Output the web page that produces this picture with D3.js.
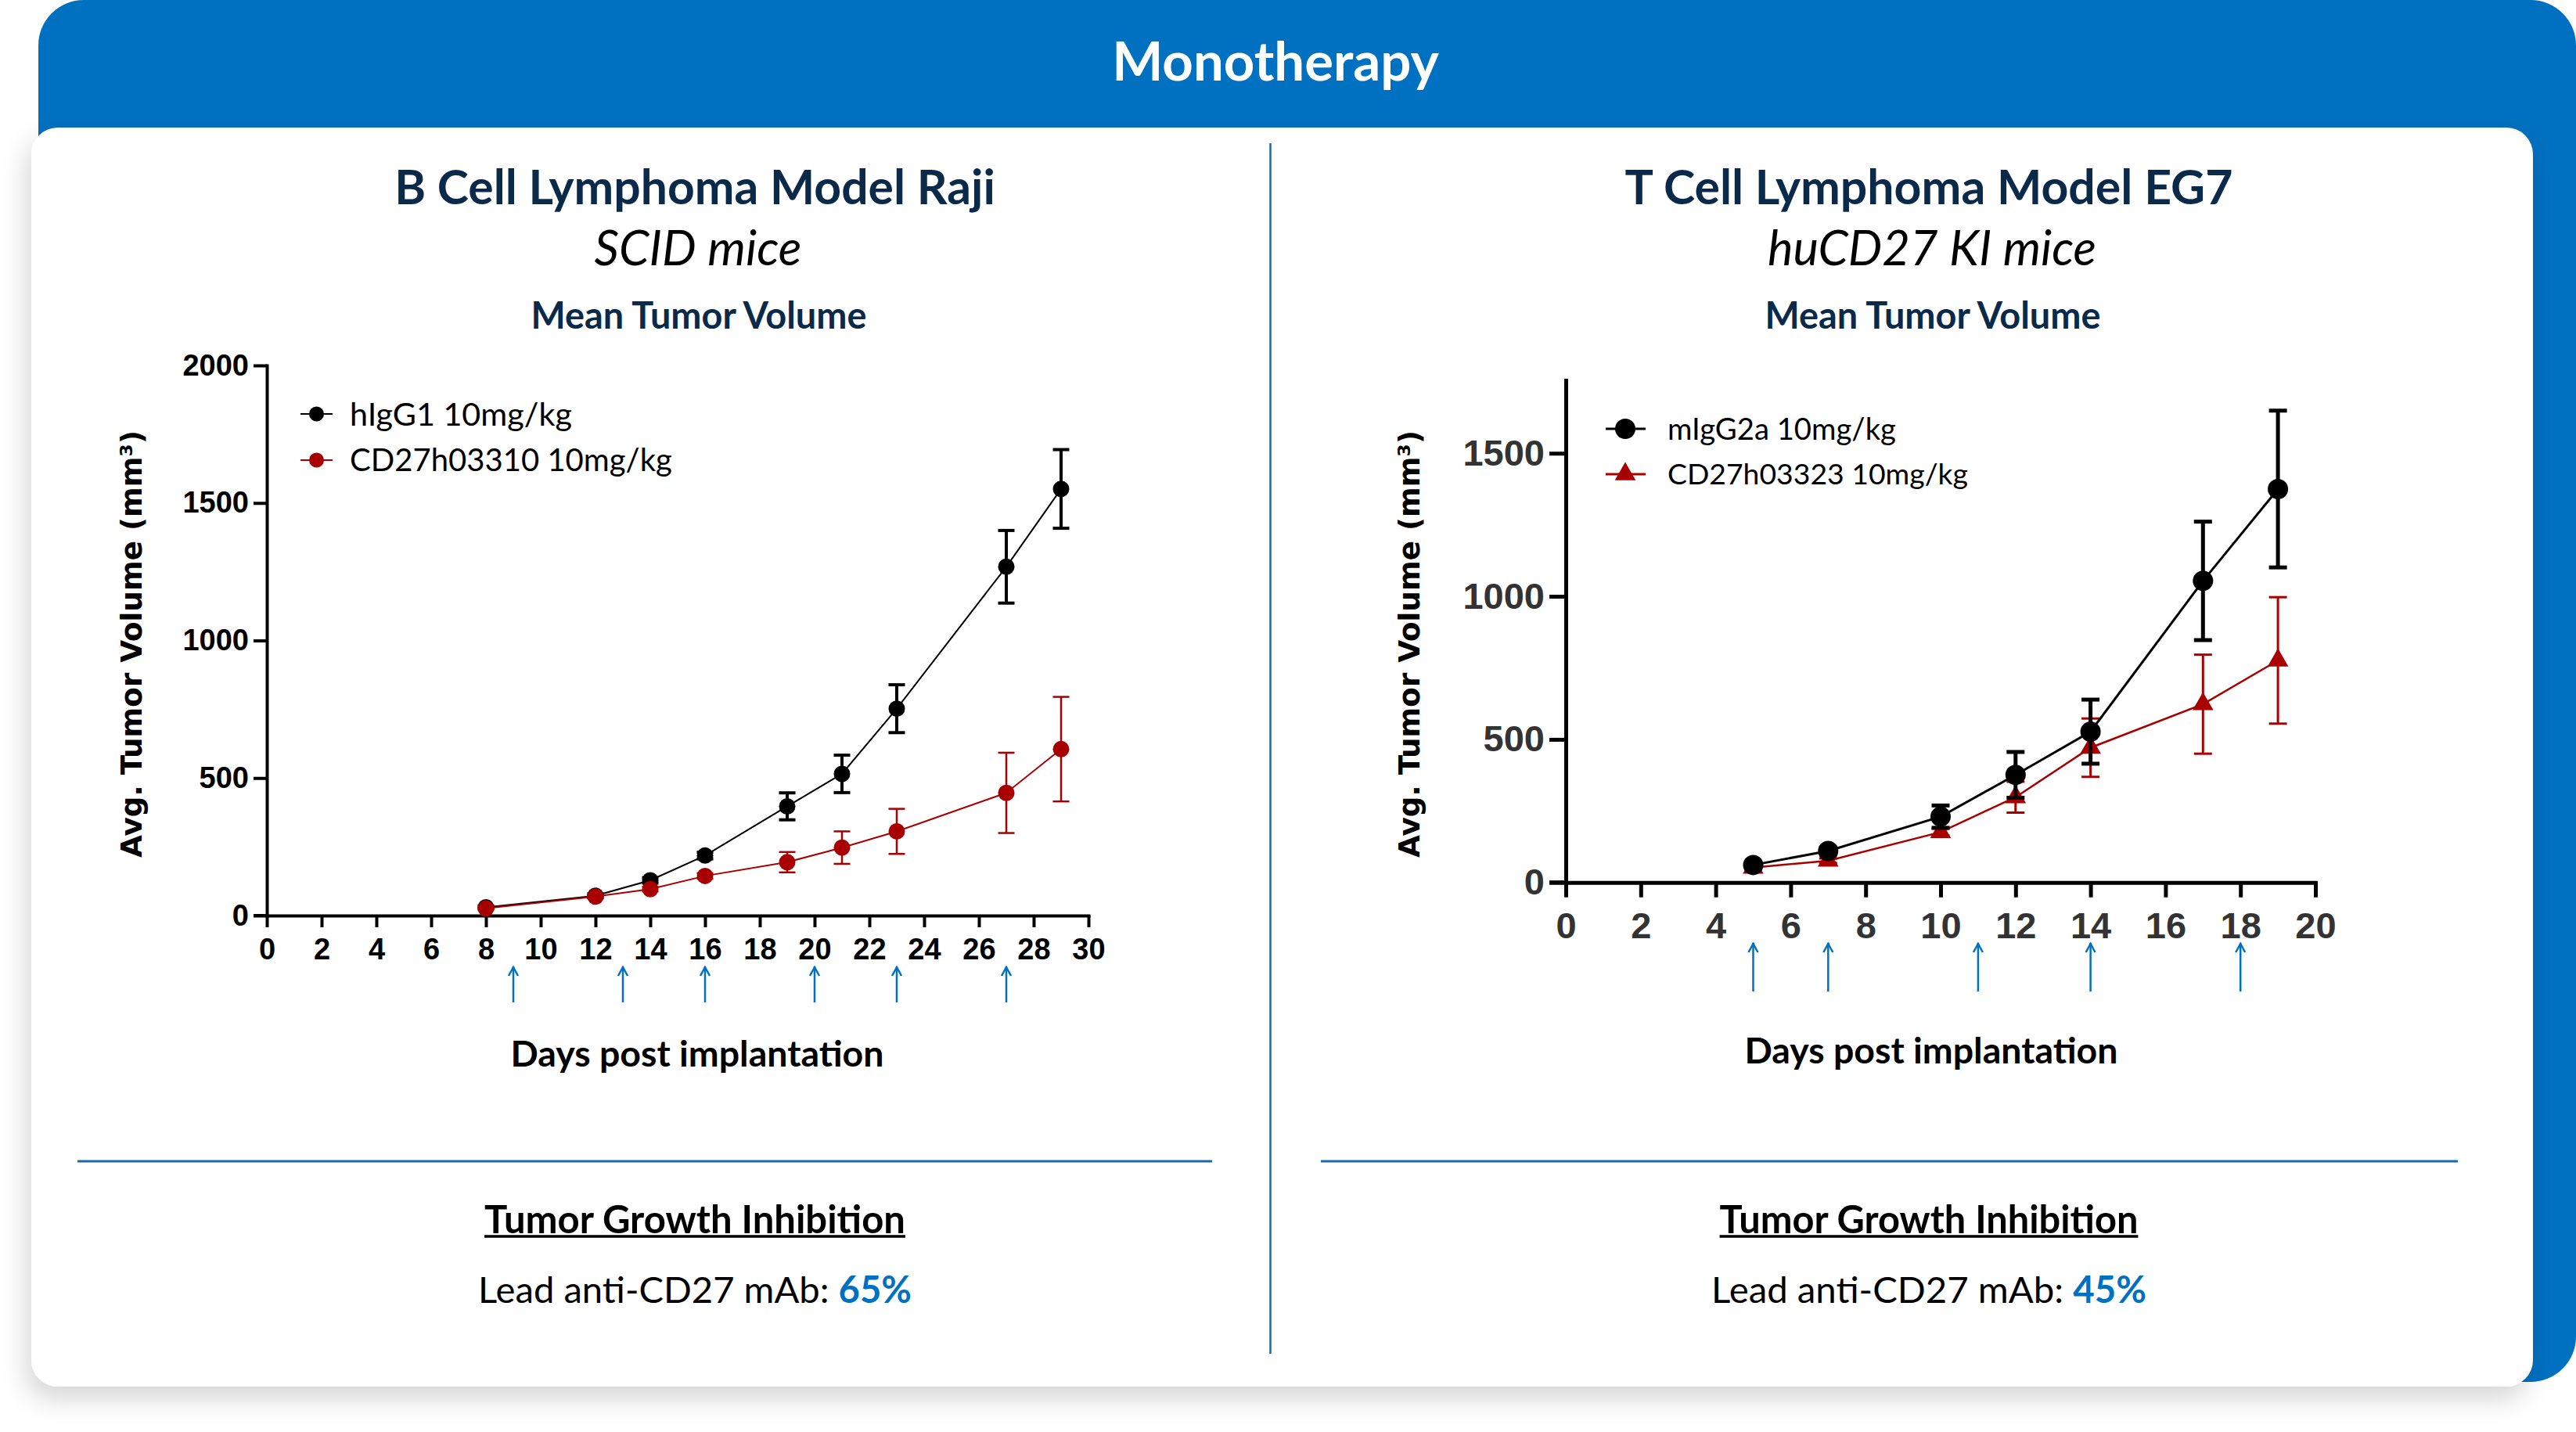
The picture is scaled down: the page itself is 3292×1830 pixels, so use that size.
<!DOCTYPE html>
<html><head><meta charset="utf-8">
<script src="https://cdn.jsdelivr.net/npm/d3@7/dist/d3.min.js"></script>
<style>html,body{margin:0;padding:0;background:#fff;overflow:hidden}</style>
</head><body>
<svg id="c" width="3292" height="1830" xmlns="http://www.w3.org/2000/svg"></svg>
<script>
// ---------------- DATA ----------------
const headerTitle = "Monotherapy";

// Left panel: B Cell Lymphoma Model Raji
const rajiTitle = "B Cell Lymphoma Model Raji";
const rajiSubtitle = "SCID mice";
const rajiDays = [8, 12, 14, 16, 19, 21, 23, 27, 29];
const rajiCtrl = [30, 72, 128, 218, 397, 515, 752, 1268, 1551];
const rajiCtrlErr = [5, 7, 10, 12, 49, 68, 87, 132, 143];
const rajiTrt = [26, 69, 96, 144, 194, 247, 306, 446, 605];
const rajiTrtErr = [4, 6, 8, 10, 37, 59, 82, 146, 190];
const rajiSeriesNames = ["hIgG1 10mg/kg", "CD27h03310 10mg/kg"];
const rajiDoseDays = [9, 13, 16, 20, 23, 27];
const rajiXTicks = d3.range(0, 31, 2);
const rajiYTicks = [0, 500, 1000, 1500, 2000];
const rajiTGI = "65%";

// Right panel: T Cell Lymphoma Model EG7
const eg7Title = "T Cell Lymphoma Model EG7";
const eg7Subtitle = "huCD27 KI mice";
const eg7Days = [5, 7, 10, 12, 14, 17, 19];
const eg7Ctrl = [61, 110, 230, 376, 527, 1054, 1375];
const eg7CtrlErr = [8, 12, 39, 80, 112, 207, 274];
const eg7Trt = [52, 76, 176, 298, 471, 623, 776];
const eg7TrtErr = [5, 8, 12, 54, 102, 173, 221];
const eg7SeriesNames = ["mIgG2a 10mg/kg", "CD27h03323 10mg/kg"];
const eg7DoseDays = [5, 7, 11, 14, 18];
const eg7XTicks = d3.range(0, 21, 2);
const eg7YTicks = [0, 500, 1000, 1500];
const eg7TGI = "45%";

const sectionTitle = "Mean Tumor Volume";
const xAxisTitle = "Days post implantation";
const yAxisTitle = "Avg. Tumor Volume (mm³)";
const tgiTitle = "Tumor Growth Inhibition";
const tgiLead = "Lead anti-CD27 mAb: ";

// ---------------- STYLE ----------------
const BLUE = "#0070C0";
const NAVY = "#0b2a4a";
const RED = "#a80000";
const LINEBLUE = "#1e66a4";
const TXT = "Lato, 'Open Sans', sans-serif";

const svg = d3.select("#c");
const defs = svg.append("defs");
const f = defs.append("filter").attr("id", "sh").attr("x", "-5%").attr("y", "-5%").attr("width", "110%").attr("height", "115%");
f.append("feDropShadow").attr("dx", -6).attr("dy", 16).attr("stdDeviation", 16)
  .attr("flood-color", "#000").attr("flood-opacity", 0.16);

// Frame
svg.append("rect").attr("x", 49).attr("y", 0).attr("width", 3243).attr("height", 1766)
  .attr("rx", 58).attr("fill", BLUE);
svg.append("rect").attr("x", 40).attr("y", 163).attr("width", 3197).attr("height", 1609)
  .attr("rx", 34).attr("fill", "#fff").attr("filter", "url(#sh)");

function fit(sel, w) {
  const fs = parseFloat(sel.attr("font-size"));
  const bw = sel.node().getBBox().width;
  if (bw > 0) sel.attr("font-size", fs * w / bw);
  return sel;
}
function text(x, y, s, o) {
  const t = svg.append("text").attr("x", x).attr("y", y).attr("dy", "0.36em")
    .attr("text-anchor", o.anchor || "middle")
    .attr("font-family", o.family || TXT).attr("font-size", o.size || 40)
    .attr("font-weight", o.weight || "normal").attr("font-style", o.style || "normal")
    .attr("fill", o.fill || "#000").text(s);
  if (o.width) fit(t, o.width);
  return t;
}

text(1630, 78, headerTitle, {weight: "bold", fill: "#fff", width: 418, size: 60});

// divider & separators
svg.append("line").attr("x1", 1623.5).attr("x2", 1623.5).attr("y1", 183).attr("y2", 1730)
  .attr("stroke", LINEBLUE).attr("stroke-width", 2.5);
svg.append("line").attr("x1", 99).attr("x2", 1549).attr("y1", 1484).attr("y2", 1484)
  .attr("stroke", LINEBLUE).attr("stroke-width", 3);
svg.append("line").attr("x1", 1688).attr("x2", 3141).attr("y1", 1484).attr("y2", 1484)
  .attr("stroke", LINEBLUE).attr("stroke-width", 3);

function panel(cfg) {
  const cx = cfg.cx;
  text(cx, 239, cfg.title, {weight: "bold", fill: NAVY, width: cfg.titleW, size: 56});
  text(cfg.subX, 317, cfg.subtitle, {style: "italic", fill: "#000", width: cfg.subW, size: 56});
  text(cfg.cx + 5, 403, sectionTitle, {weight: "bold", fill: NAVY, width: 429, size: 44});

  const x = d3.scaleLinear().domain([0, cfg.xMax]).range([cfg.x0, cfg.x1]);
  const y = d3.scaleLinear().domain([0, cfg.yMax]).range([cfg.y0, cfg.y1]);
  const g = svg.append("g");

  const xa = g.append("g").attr("transform", `translate(0,${cfg.y0})`)
    .call(d3.axisBottom(x).tickValues(cfg.xTicks).tickFormat(d3.format("d"))
      .tickSizeInner(cfg.xTick).tickSizeOuter(0).tickPadding(cfg.xPad));
  const ya = g.append("g").attr("transform", `translate(${cfg.x0},0)`)
    .call(d3.axisLeft(y).tickValues(cfg.yTicks).tickFormat(d3.format("d"))
      .tickSizeInner(cfg.yTick).tickSizeOuter(0).tickPadding(cfg.yPad));
  [xa, ya].forEach(a => {
    a.select(".domain").attr("stroke", "#000").attr("stroke-width", cfg.axW).attr("stroke-linecap", "square");
    a.selectAll(".tick line").attr("stroke", "#000").attr("stroke-width", cfg.axW);
    a.selectAll(".tick text").attr("font-family", "'Liberation Sans', Arial, sans-serif")
      .attr("font-weight", "bold").attr("font-size", cfg.tickFS).attr("fill", cfg.tickFill);
  });
  g.append("line").attr("x1", cfg.x0 - cfg.yTick).attr("x2", cfg.x0).attr("y1", cfg.y0).attr("y2", cfg.y0)
    .attr("stroke", "#000").attr("stroke-width", cfg.axW);

  // axis titles
  const yt = svg.append("text").attr("transform", `translate(${cfg.ytX},823) rotate(-90)`)
    .attr("text-anchor", "middle").attr("dy", "0.36em")
    .attr("font-family", "'DejaVu Sans', Verdana, sans-serif").attr("font-weight", "bold")
    .attr("font-size", 36).attr("fill", "#000").text(yAxisTitle);
  fit(yt, 546);
  text(cfg.cx + 3, cfg.xtY, xAxisTitle, {weight: "bold", fill: "#000", width: 477, size: 42});

  // dosing arrows
  cfg.doses.forEach(d => {
    const ax = x(d);
    g.append("line").attr("x1", ax).attr("x2", ax).attr("y1", cfg.arTop).attr("y2", cfg.arBot)
      .attr("stroke", BLUE).attr("stroke-width", 2.5);
    g.append("path").attr("d", `M${ax - 6},${cfg.arTop + 12} L${ax},${cfg.arTop + 1} L${ax + 6},${cfg.arTop + 12}`)
      .attr("fill", "none").attr("stroke", BLUE).attr("stroke-width", 2.5);
  });

  function marker(gg, mx, my, shape, r, color) {
    if (shape === "tri") {
      const s = r * 2.05;
      gg.append("path").attr("d", d3.symbol().type(d3.symbolTriangle).size(s * s * 0.433)())
        .attr("transform", `translate(${mx},${my})`).attr("fill", color);
    } else {
      gg.append("circle").attr("cx", mx).attr("cy", my).attr("r", r).attr("fill", color);
    }
  }
  function series(vals, errs, color, lw, ew, shape, r) {
    const pts = cfg.days.map((d, i) => ({d, v: vals[i], e: errs[i]}));
    g.append("path").datum(pts).attr("fill", "none").attr("stroke", color).attr("stroke-width", lw)
      .attr("d", d3.line().x(p => x(p.d)).y(p => y(p.v)));
    pts.forEach(p => {
      const px = x(p.d), yt = y(p.v + p.e), yb = y(p.v - p.e);
      g.append("line").attr("x1", px).attr("x2", px).attr("y1", yt).attr("y2", yb)
        .attr("stroke", color).attr("stroke-width", ew);
      [yt, yb].forEach(yy => g.append("line").attr("x1", px - cfg.cap / 2).attr("x2", px + cfg.cap / 2)
        .attr("y1", yy).attr("y2", yy).attr("stroke", color).attr("stroke-width", ew));
    });
    pts.forEach(p => marker(g, x(p.d), y(p.v), shape, r, color));
  }
  if (cfg.redFirst) {
    series(cfg.trt, cfg.trtErr, RED, cfg.lwR, cfg.ewR, cfg.trtShape, cfg.r);
    series(cfg.ctrl, cfg.ctrlErr, "#000", cfg.lwB, cfg.ewB, "circle", cfg.r);
  } else {
    series(cfg.ctrl, cfg.ctrlErr, "#000", cfg.lwB, cfg.ewB, "circle", cfg.r);
    series(cfg.trt, cfg.trtErr, RED, cfg.lwR, cfg.ewR, cfg.trtShape, cfg.r);
  }

  // legend
  const L = cfg.leg;
  [0, 1].forEach(i => {
    const col = i === 0 ? "#000" : RED;
    const ly = L.ys[i];
    g.append("line").attr("x1", L.x1).attr("x2", L.x2).attr("y1", ly).attr("y2", ly)
      .attr("stroke", col).attr("stroke-width", cfg.lwB);
    marker(g, L.mx, ly, i === 0 ? "circle" : cfg.trtShape, L.r, col);
    text(L.tx, ly, cfg.names[i], {anchor: "start", size: 36, width: L.tw[i]});
  });

  // TGI block
  const tg = text(cfg.cx, 1558, tgiTitle, {weight: "bold", width: cfg.tgiW, size: 44});
  const bb = tg.node().getBBox();
  svg.append("line").attr("x1", bb.x).attr("x2", bb.x + bb.width).attr("y1", 1580).attr("y2", 1580)
    .attr("stroke", "#000").attr("stroke-width", 3.5);
  const lt = svg.append("text").attr("x", cfg.cx).attr("y", 1648).attr("dy", "0.36em")
    .attr("text-anchor", "middle").attr("font-family", TXT).attr("font-size", 44).attr("fill", "#000");
  lt.append("tspan").text(tgiLead);
  lt.append("tspan").attr("font-weight", "bold").attr("fill", BLUE).text(cfg.tgi);
  fit(lt, cfg.leadW);
}

panel({
  cx: 888, title: rajiTitle, subtitle: rajiSubtitle, titleW: 768, subX: 892, subW: 265,
  xMax: 30, yMax: 2000, x0: 341, x1: 1391, y0: 1170, y1: 467,
  xTicks: rajiXTicks, yTicks: rajiYTicks, xTick: 15, yTick: 17, xPad: 14, yPad: 6,
  axW: 4, tickFS: 38, tickFill: "#000", ytX: 168, xtY: 1346,
  doses: rajiDoseDays, arTop: 1235, arBot: 1281,
  days: rajiDays, ctrl: rajiCtrl, ctrlErr: rajiCtrlErr, trt: rajiTrt, trtErr: rajiTrtErr,
  lwB: 2, lwR: 2, ewB: 4, ewR: 2.5, cap: 21, r: 10.5, trtShape: "circle", redFirst: false,
  names: rajiSeriesNames,
  leg: {x1: 384, x2: 425, mx: 404.5, r: 9.5, ys: [529, 588], tx: 447, tw: [284, 412]},
  tgi: rajiTGI, tgiW: 538, leadW: 554
});

panel({
  cx: 2465, title: eg7Title, subtitle: eg7Subtitle, titleW: 777, subX: 2469, subW: 420,
  xMax: 20, yMax: 1755, x0: 2001, x1: 2959, y0: 1127.7, y1: 486,
  xTicks: eg7XTicks, yTicks: eg7YTicks, xTick: 19, yTick: 21, xPad: 19, yPad: 6,
  axW: 5, tickFS: 47, tickFill: "#333", ytX: 1801, xtY: 1342,
  doses: eg7DoseDays, arTop: 1205, arBot: 1267,
  days: eg7Days, ctrl: eg7Ctrl, ctrlErr: eg7CtrlErr, trt: eg7Trt, trtErr: eg7TrtErr,
  lwB: 3, lwR: 2.5, ewB: 5, ewR: 3, cap: 23, r: 13, trtShape: "tri", redFirst: true,
  names: eg7SeriesNames,
  leg: {x1: 2052, x2: 2103, mx: 2077, r: 13, ys: [548, 606], tx: 2131, tw: [292, 384]},
  tgi: eg7TGI, tgiW: 535, leadW: 556
});
</script>
</body></html>
